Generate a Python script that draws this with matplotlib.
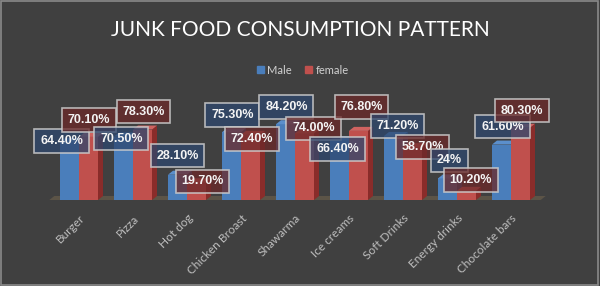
import matplotlib
matplotlib.use("Agg")
import matplotlib.pyplot as plt
from matplotlib.patches import Polygon, Rectangle, Patch

# data
foods = ['Burger', 'Pizza', 'Hot dog', 'Chicken Broast', 'Shawarma',
         'Ice creams', 'Soft Drinks', 'Energy drinks', 'Chocolate bars']
male = [64.4, 70.5, 28.1, 75.3, 84.2, 66.4, 71.2, 24.0, 61.6]
female = [70.1, 78.3, 19.7, 72.4, 74.0, 76.8, 58.7, 10.2, 80.3]
male_text = ['64.40%', '70.50%', '28.10%', '75.30%', '84.20%', '66.40%', '71.20%', '24%', '61.60%']
female_text = ['70.10%', '78.30%', '19.70%', '72.40%', '74.00%', '76.80%', '58.70%', '10.20%', '80.30%']

# label box offsets from bar top (pixels) - style only
male_off = [(-8, 1), (-2, -2), (0, 19), (1, 17), (1, 17), (-2, -9), (4, 10), (2, 18), (1, 18)]
female_off = [(0, 17), (1, 18), (6, 1), (1, -4), (9, 5), (3, 24), (10, 0), (4, 11), (1, 17)]

BG = '#404040'
BLUE, BLUE_SIDE, BLUE_TOP = '#4a7ebb', '#2e5a8e', '#5b8fcc'
RED, RED_SIDE, RED_TOP = '#c0504d', '#8a2c2a', '#cf6360'

fig = plt.figure(figsize=(6, 2.86), dpi=100, facecolor=BG)
fig.patches.append(Rectangle((0.002, 0.004), 0.995, 0.992, transform=fig.transFigure,
                             fill=False, edgecolor='#8a8a8a', linewidth=1.2))

ax = fig.add_axes([41.2 / 600, 86 / 286, 513 / 600, 90 / 286])
ax.set_facecolor('none')
ax.set_xlim(-0.7, 8.8)
ax.set_ylim(0, 100)

w = 0.352
ddx = 5 / 54.0   # 3d depth in data units
ddy = 4 / 0.9

# floor plate
n = len(foods)
ax.add_patch(Polygon([(-0.55, 0), (n - 0.45, 0), (n - 0.45 + ddx, ddy), (-0.55 + ddx, ddy)],
                     closed=True, fc='#5c5447', ec='none', zorder=1))
ax.add_patch(Polygon([(-0.55, -2.5), (n - 0.45, -2.5), (n - 0.45, 0), (-0.55, 0)],
                     closed=True, fc='#4c463c', ec='none', zorder=1))


def bar3d(x, v, face, side, top, z):
    ax.bar(x, v, width=w, color=face, edgecolor='none', zorder=z)
    r = x + w / 2
    l = x - w / 2
    ax.add_patch(Polygon([(r, 0), (r + ddx, ddy), (r + ddx, v + ddy), (r, v)],
                         closed=True, fc=side, ec='none', zorder=z))
    ax.add_patch(Polygon([(l, v), (l + ddx, v + ddy), (r + ddx, v + ddy), (r, v)],
                         closed=True, fc=top, ec='none', zorder=z))


for i in range(n):
    bar3d(i - w / 2, male[i], BLUE, BLUE_SIDE, BLUE_TOP, 2 + i * 2)
    bar3d(i + w / 2, female[i], RED, RED_SIDE, RED_TOP, 3 + i * 2)

# data labels
for i in range(n):
    for x, v, t, off, fc in [(i - w / 2, male[i], male_text[i], male_off[i], (0.18, 0.28, 0.43, 0.75)),
                             (i + w / 2, female[i], female_text[i], female_off[i], (0.42, 0.16, 0.16, 0.75))]:
        ax.annotate(t, xy=(x, v), xytext=off, textcoords='offset pixels',
                    ha='center', va='center', fontsize=9, fontweight='bold',
                    family='Liberation Sans', color='#f4f4f4', zorder=50,
                    bbox=dict(boxstyle='square,pad=0.46', fc=fc,
                              ec=(0.8, 0.8, 0.8, 0.85), lw=1.2))

ax.set_xticks(range(n))
ax.set_xticklabels(foods, rotation=45, ha='right', rotation_mode='anchor',
                   color='#bfbfbf', fontsize=8.5, family='Lato')
ax.tick_params(axis='x', length=0, pad=9)
ax.set_yticks([])
for s in ax.spines.values():
    s.set_visible(False)

fig.text(0.5, 1 - 29.5 / 286, 'JUNK FOOD CONSUMPTION PATTERN', ha='center', va='center',
         color='white', fontsize=15, family='Lato')

handles = [Patch(color=BLUE, label='Male'), Patch(color=RED, label='female')]
fig.legend(handles=handles, loc='center', bbox_to_anchor=(0.505, 1 - 70 / 286), ncol=2,
           frameon=False, labelcolor='#d0d0d0', handlelength=0.6,
           handleheight=0.6, handletextpad=0.3, columnspacing=1.2, prop={'family': 'Lato', 'size': 8})

fig.savefig('out.png', dpi=100, facecolor=BG)
